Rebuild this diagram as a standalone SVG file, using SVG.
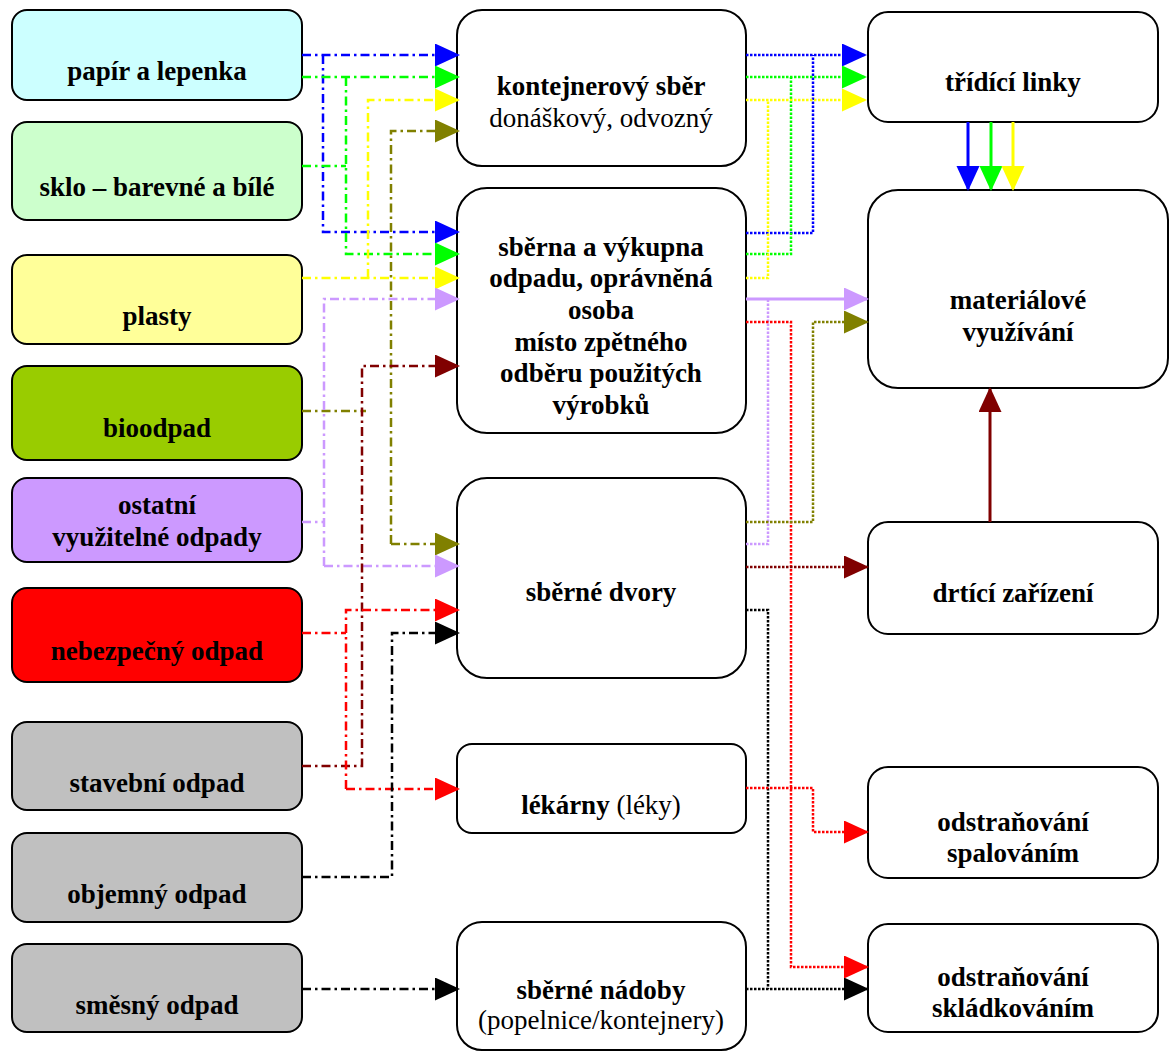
<svg xmlns="http://www.w3.org/2000/svg" width="1172" height="1053" viewBox="0 0 1172 1053">
<style>
.box{stroke:#000;stroke-width:2}
.t{font-family:"Liberation Serif","Times New Roman",serif;font-size:27px;font-weight:bold;fill:#000;text-anchor:middle}
.n{font-weight:normal}
.dd{fill:none;stroke-width:2.5;stroke-dasharray:9 4 2.5 4}
.dt{fill:none;stroke-width:2.5;stroke-dasharray:2.5 1.5}
.sl{fill:none;stroke-width:3}
</style>
<defs>
<marker id="aB" markerUnits="userSpaceOnUse" markerWidth="25" markerHeight="24" refX="23" refY="11.5" orient="auto"><path d="M0,0 L25,11.5 L0,23 z" fill="#0000ff"/></marker>
<marker id="aG" markerUnits="userSpaceOnUse" markerWidth="25" markerHeight="24" refX="23" refY="11.5" orient="auto"><path d="M0,0 L25,11.5 L0,23 z" fill="#00ff00"/></marker>
<marker id="aY" markerUnits="userSpaceOnUse" markerWidth="25" markerHeight="24" refX="23" refY="11.5" orient="auto"><path d="M0,0 L25,11.5 L0,23 z" fill="#ffff00"/></marker>
<marker id="aO" markerUnits="userSpaceOnUse" markerWidth="25" markerHeight="24" refX="23" refY="11.5" orient="auto"><path d="M0,0 L25,11.5 L0,23 z" fill="#808000"/></marker>
<marker id="aL" markerUnits="userSpaceOnUse" markerWidth="25" markerHeight="24" refX="23" refY="11.5" orient="auto"><path d="M0,0 L25,11.5 L0,23 z" fill="#cc99ff"/></marker>
<marker id="aD" markerUnits="userSpaceOnUse" markerWidth="25" markerHeight="24" refX="23" refY="11.5" orient="auto"><path d="M0,0 L25,11.5 L0,23 z" fill="#800000"/></marker>
<marker id="aR" markerUnits="userSpaceOnUse" markerWidth="25" markerHeight="24" refX="23" refY="11.5" orient="auto"><path d="M0,0 L25,11.5 L0,23 z" fill="#ff0000"/></marker>
<marker id="aK" markerUnits="userSpaceOnUse" markerWidth="25" markerHeight="24" refX="23" refY="11.5" orient="auto"><path d="M0,0 L25,11.5 L0,23 z" fill="#000000"/></marker>
</defs>
<rect width="1172" height="1053" fill="#fff"/>

<!-- left nodes -->
<g id="papir"><rect class="box" x="12" y="10" width="290" height="90" rx="15" fill="#ccffff"/><text class="t" x="157" y="80">papír a lepenka</text></g>
<g id="sklo"><rect class="box" x="12" y="122" width="290" height="98" rx="15" fill="#ccffcc"/><text class="t" x="157" y="196">sklo – barevné a bílé</text></g>
<g id="plasty"><rect class="box" x="12" y="255" width="290" height="89" rx="15" fill="#ffff99"/><text class="t" x="157" y="325">plasty</text></g>
<g id="bioodpad"><rect class="box" x="12" y="366" width="290" height="94" rx="15" fill="#99cc00"/><text class="t" x="157" y="437">bioodpad</text></g>
<g id="ostatni"><rect class="box" x="12" y="478" width="290" height="84" rx="15" fill="#cc99ff"/><text class="t" x="157" y="514">ostatní</text><text class="t" x="157" y="546">využitelné odpady</text></g>
<g id="nebezpecny"><rect class="box" x="12" y="588" width="290" height="94" rx="15" fill="#ff0000"/><text class="t" x="157" y="660">nebezpečný odpad</text></g>
<g id="stavebni"><rect class="box" x="12" y="722" width="290" height="88" rx="15" fill="#c0c0c0"/><text class="t" x="157" y="792">stavební odpad</text></g>
<g id="objemny"><rect class="box" x="12" y="833" width="290" height="89" rx="15" fill="#c0c0c0"/><text class="t" x="157" y="903">objemný odpad</text></g>
<g id="smesny"><rect class="box" x="12" y="944" width="290" height="88" rx="15" fill="#c0c0c0"/><text class="t" x="157" y="1014">směsný odpad</text></g>

<!-- middle nodes -->
<g id="kontejnerovy"><rect class="box" x="457" y="10" width="289" height="156" rx="25" fill="#fff"/><text class="t" x="601" y="95">kontejnerový sběr</text><text class="t n" x="601" y="127">donáškový, odvozný</text></g>
<g id="sberna"><rect class="box" x="457" y="188" width="289" height="245" rx="30" fill="#fff"/>
<text class="t" x="601" y="256">sběrna a výkupna</text><text class="t" x="601" y="287">odpadu, oprávněná</text><text class="t" x="601" y="319">osoba</text><text class="t" x="601" y="351">místo zpětného</text><text class="t" x="601" y="382">odběru použitých</text><text class="t" x="601" y="414">výrobků</text></g>
<g id="dvory"><rect class="box" x="457" y="478" width="289" height="200" rx="30" fill="#fff"/><text class="t" x="601" y="601">sběrné dvory</text></g>
<g id="lekarny"><rect class="box" x="457" y="744" width="289" height="89" rx="15" fill="#fff"/><text class="t" x="601" y="814">lékárny<tspan class="n"> (léky)</tspan></text></g>
<g id="nadoby"><rect class="box" x="457" y="922" width="289" height="128" rx="25" fill="#fff"/><text class="t" x="601" y="999">sběrné nádoby</text><text class="t n" x="601" y="1029">(popelnice/kontejnery)</text></g>

<!-- right nodes -->
<g id="tridici"><rect class="box" x="868" y="12" width="290" height="110" rx="20" fill="#fff"/><text class="t" x="1013" y="91">třídící linky</text></g>
<g id="materialove"><rect class="box" x="868" y="190" width="300" height="198" rx="30" fill="#fff"/><text class="t" x="1018" y="309">materiálové</text><text class="t" x="1018" y="341">využívání</text></g>
<g id="drtici"><rect class="box" x="868" y="522" width="290" height="112" rx="20" fill="#fff"/><text class="t" x="1013" y="602">drtící zařízení</text></g>
<g id="spalovani"><rect class="box" x="868" y="767" width="290" height="111" rx="20" fill="#fff"/><text class="t" x="1013" y="831">odstraňování</text><text class="t" x="1013" y="862">spalováním</text></g>
<g id="skladkovani"><rect class="box" x="868" y="924" width="290" height="108" rx="20" fill="#fff"/><text class="t" x="1013" y="986">odstraňování</text><text class="t" x="1013" y="1017">skládkováním</text></g>

<g id="connectors">
<!-- left side dash-dot -->
<path class="dd" stroke="#0000ff" d="M302,55 H458" marker-end="url(#aB)"/>
<path class="dd" stroke="#0000ff" d="M323,55 V232 H458" marker-end="url(#aB)"/>
<path class="dd" stroke="#00ff00" d="M302,77 H458" marker-end="url(#aG)"/>
<path class="dd" stroke="#00ff00" d="M302,166 H346"/>
<path class="dd" stroke="#00ff00" d="M346,77 V254 H458" marker-end="url(#aG)"/>
<path class="dd" stroke="#ffff00" d="M302,278 H458" marker-end="url(#aY)"/>
<path class="dd" stroke="#ffff00" d="M368,278 V100 H458" marker-end="url(#aY)"/>
<path class="dd" stroke="#808000" d="M302,411 H366"/>
<path class="dd" stroke="#808000" d="M391,544 V131 H458" marker-end="url(#aO)"/>
<path class="dd" stroke="#808000" d="M391,544 H458" marker-end="url(#aO)"/>
<path class="dd" stroke="#cc99ff" d="M302,522 H324"/>
<path class="dd" stroke="#cc99ff" d="M324,566 V299 H458" marker-end="url(#aL)"/>
<path class="dd" stroke="#cc99ff" d="M324,566 H458" marker-end="url(#aL)"/>
<path class="dd" stroke="#800000" d="M302,766 H362 V366 H458" marker-end="url(#aD)"/>
<path class="dd" stroke="#ff0000" d="M302,633 H346"/>
<path class="dd" stroke="#ff0000" d="M346,789 V610 H458" marker-end="url(#aR)"/>
<path class="dd" stroke="#ff0000" d="M346,789 H458" marker-end="url(#aR)"/>
<path class="dd" stroke="#000000" d="M302,877 H392 V633 H458" marker-end="url(#aK)"/>
<path class="dd" stroke="#000000" d="M302,989 H458" marker-end="url(#aK)"/>

<!-- right side dotted -->
<path class="dt" stroke="#0000ff" d="M746,55 H865" marker-end="url(#aB)"/>
<path class="dt" stroke="#0000ff" d="M746,233 H813 V55"/>
<path class="dt" stroke="#00ff00" d="M746,77 H865" marker-end="url(#aG)"/>
<path class="dt" stroke="#00ff00" d="M746,254 H791 V77"/>
<path class="dt" stroke="#ffff00" d="M746,100 H865" marker-end="url(#aY)"/>
<path class="dt" stroke="#ffff00" d="M746,278 H768 V100"/>
<path class="sl" stroke="#cc99ff" d="M746,299 H867" marker-end="url(#aL)"/>
<path class="dt" stroke="#cc99ff" d="M746,544 H768 V299"/>
<path class="dt" stroke="#ff0000" d="M746,322 H791 V967 H867" marker-end="url(#aR)"/>
<path class="dt" stroke="#808000" d="M746,522 H813 V322 H867" marker-end="url(#aO)"/>
<path class="dt" stroke="#800000" d="M746,567 H867" marker-end="url(#aD)"/>
<path class="dt" stroke="#000000" d="M746,610 H768 V989"/>
<path class="dt" stroke="#000000" d="M746,989 H867" marker-end="url(#aK)"/>
<path class="dt" stroke="#ff0000" d="M746,788 H813 V832 H867" marker-end="url(#aR)"/>

<!-- vertical solid -->
<path class="sl" stroke="#0000ff" d="M968,122 V189" marker-end="url(#aB)"/>
<path class="sl" stroke="#00ff00" d="M991,122 V189" marker-end="url(#aG)"/>
<path class="sl" stroke="#ffff00" d="M1013,122 V189" marker-end="url(#aY)"/>
<path class="sl" stroke="#800000" d="M990,522 V389" marker-end="url(#aD)"/>
</g>
</svg>
